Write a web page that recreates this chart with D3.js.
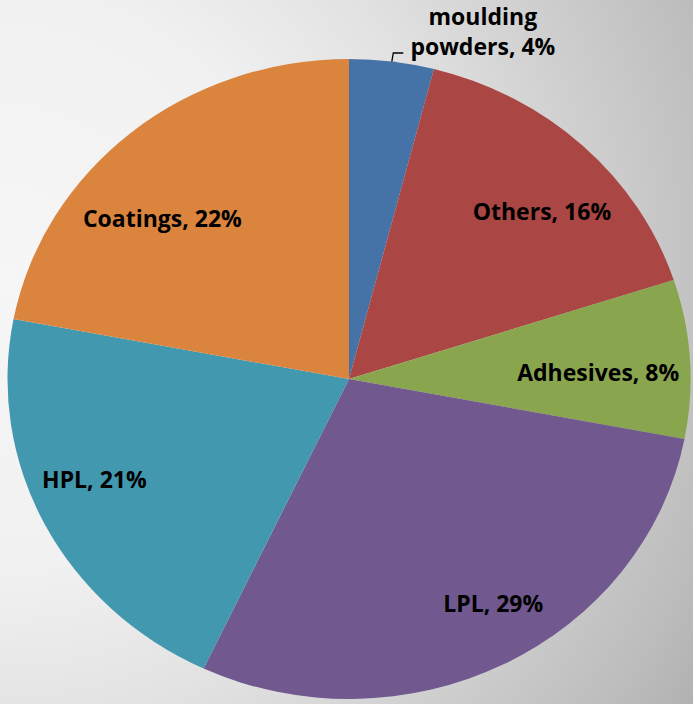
<!DOCTYPE html>
<html>
<head>
<meta charset="utf-8">
<script src="https://cdn.jsdelivr.net/npm/d3@7"></script>
<style>
  html, body { margin: 0; padding: 0; }
  body { width: 693px; height: 704px; overflow: hidden; }
</style>
</head>
<body>
<svg id="chart"></svg>
<script>
// chart data, clockwise from 12 o'clock
const categories = ['moulding powders', 'Others', 'Adhesives', 'LPL', 'HPL', 'Coatings'];
const shares = [4, 16, 8, 29, 21, 22];
const colors = ['#4572A7', '#AA4643', '#89A54E', '#71588F', '#4198AF', '#DB843D'];

// label placement: [angle nudge in degrees, radius as fraction of pie]
const labelPlace = [[13, 1.135], [4, 0.77], [2, 0.73], [-4, 0.82], [4, 0.81], [-8, 0.74]];

const width = 693;
const height = 704;
const cx = 349;
const cy = 379;
const ry = 320;
const sx = 341.5 / 320; // pie is drawn a bit wider than tall

const svg = d3.select('#chart')
  .attr('width', width)
  .attr('height', height);

const defs = svg.append('defs');
const grad = defs.append('radialGradient')
  .attr('id', 'bg')
  .attr('gradientUnits', 'userSpaceOnUse')
  .attr('cx', 0).attr('cy', 280).attr('r', 820);
[[0, '#f6f6f6'], [0.35, '#f1f1f1'], [0.55, '#e2e2e2'], [0.91, '#bcbcbc'], [1, '#b0b0b0']]
  .forEach(([o, c]) => grad.append('stop').attr('offset', o).attr('stop-color', c));

svg.append('rect')
  .attr('width', width)
  .attr('height', height)
  .attr('fill', 'url(#bg)');

const pie = d3.pie().sort(null).value(d => d)(shares);
const arc = d3.arc().innerRadius(0).outerRadius(ry);

const g = svg.append('g')
  .attr('transform', `translate(${cx},${cy}) scale(${sx},1)`);

g.selectAll('path')
  .data(pie)
  .join('path')
  .attr('d', arc)
  .attr('fill', (d, i) => colors[i]);

// label positions along the (stretched) pie
function labelPos(d, i) {
  const [nudge, k] = labelPlace[i];
  const a = (d.startAngle + d.endAngle) / 2 + nudge * Math.PI / 180;
  return [cx + Math.sin(a) * ry * k * sx, cy - Math.cos(a) * ry * k];
}

const labels = svg.append('g')
  .style('font-family', '"Open Sans", Lato, sans-serif')
  .style('font-weight', 700)
  .style('font-size', '23px')
  .attr('fill', '#000');

pie.forEach((d, i) => {
  const [x, y] = labelPos(d, i);
  const text = labels.append('text')
    .attr('text-anchor', 'middle')
    .attr('x', x)
    .attr('y', y);
  const label = `${categories[i]}, ${shares[i]}%`;
  if (i === 0) {
    const words = label.split(' ');
    text.append('tspan').attr('x', x).attr('y', y - 13).text(words[0]);
    text.append('tspan').attr('x', x).attr('y', y + 17).text(words.slice(1).join(' '));
  } else {
    text.attr('dy', '0.35em').text(label);
  }
});

// leader line for the small slice
const small = pie[0];
const mid = (small.startAngle + small.endAngle) / 2;
const edge = [cx + Math.sin(mid) * ry * sx, cy - Math.cos(mid) * ry];
svg.append('path')
  .attr('d', d3.line()([edge, [edge[0] + 1.5, cy - ry - 6], [edge[0] + 11.5, cy - ry - 6]]))
  .attr('fill', 'none')
  .attr('stroke', '#000')
  .attr('stroke-width', 1.3);
</script>
</body>
</html>
